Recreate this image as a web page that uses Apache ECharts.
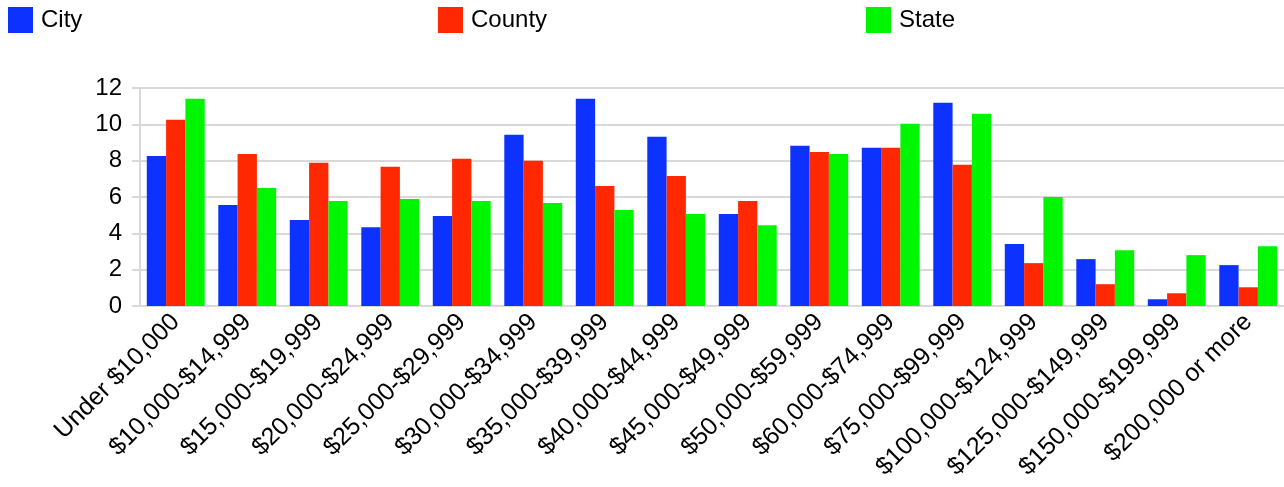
<!DOCTYPE html>
<html><head><meta charset="utf-8">
<script src="https://cdn.jsdelivr.net/npm/echarts@6/dist/echarts.min.js"></script>
<style>html,body{margin:0;padding:0;background:#fff}#c{width:1284px;height:487px}</style>
</head><body><div id="c"></div>
<script>
const categories = ["Under $10,000","$10,000-$14,999","$15,000-$19,999","$20,000-$24,999","$25,000-$29,999","$30,000-$34,999","$35,000-$39,999","$40,000-$44,999","$45,000-$49,999","$50,000-$59,999","$60,000-$74,999","$75,000-$99,999","$100,000-$124,999","$125,000-$149,999","$150,000-$199,999","$200,000 or more"];
const city   = [8.26, 5.56, 4.73, 4.34, 4.95, 9.42, 11.41, 9.31, 5.06, 8.82, 8.71, 11.19, 3.41, 2.58, 0.37, 2.25];
const county = [10.25, 8.37, 7.88, 7.66, 8.10, 7.99, 6.61, 7.16, 5.78, 8.48, 8.71, 7.77, 2.36, 1.20, 0.70, 1.03];
const state  = [11.41, 6.50, 5.78, 5.89, 5.78, 5.67, 5.28, 5.06, 4.45, 8.37, 10.03, 10.58, 6.00, 3.07, 2.80, 3.29];
const yTicks = [0, 2, 4, 6, 8, 10, 12];

const font = 'Liberation Sans, Arial, sans-serif';
const chart = echarts.init(document.getElementById('c'));
const legendBase = {top: 2, itemWidth: 25, itemHeight: 26, itemGap: 0, icon: 'rect',
  textStyle: {fontSize: 24, color: '#000', fontFamily: font, padding: [0,0,0,3]}};
chart.setOption({
  animation: false,
  legend: [
    Object.assign({left: 3, data: ['City']}, legendBase),
    Object.assign({left: 433, data: ['County']}, legendBase),
    Object.assign({left: 861, data: ['State']}, legendBase)
  ],
  grid: {left: 140, right: 0, top: 88, bottom: 181, containLabel: false},
  xAxis: {
    type: 'category', data: categories,
    axisLine: {lineStyle: {color: '#d9d9d9', width: 2}},
    axisTick: {length: 8, lineStyle: {color: '#d9d9d9', width: 2}},
    axisLabel: {rotate: 45, fontSize: 25, color: '#000', fontFamily: font, margin: 12, interval: 0}
  },
  yAxis: {
    type: 'value', min: yTicks[0], max: yTicks[yTicks.length-1], interval: 2,
    axisLine: {show: true, lineStyle: {color: '#d9d9d9', width: 2}},
    axisTick: {show: true, length: 8, lineStyle: {color: '#d9d9d9', width: 2}},
    splitLine: {lineStyle: {color: '#d9d9d9', width: 2}},
    axisLabel: {fontSize: 24, color: '#000', fontFamily: font, margin: 18,
      formatter: v => yTicks.includes(v) ? String(v) : ''}
  },
  series: [
    {name: 'City', type: 'bar', data: city, itemStyle: {color: '#0d31ff'}, barGap: '0%', barCategoryGap: '19%'},
    {name: 'County', type: 'bar', data: county, itemStyle: {color: '#ff2800'}},
    {name: 'State', type: 'bar', data: state, itemStyle: {color: '#00f600'}}
  ]
});
</script></body></html>
